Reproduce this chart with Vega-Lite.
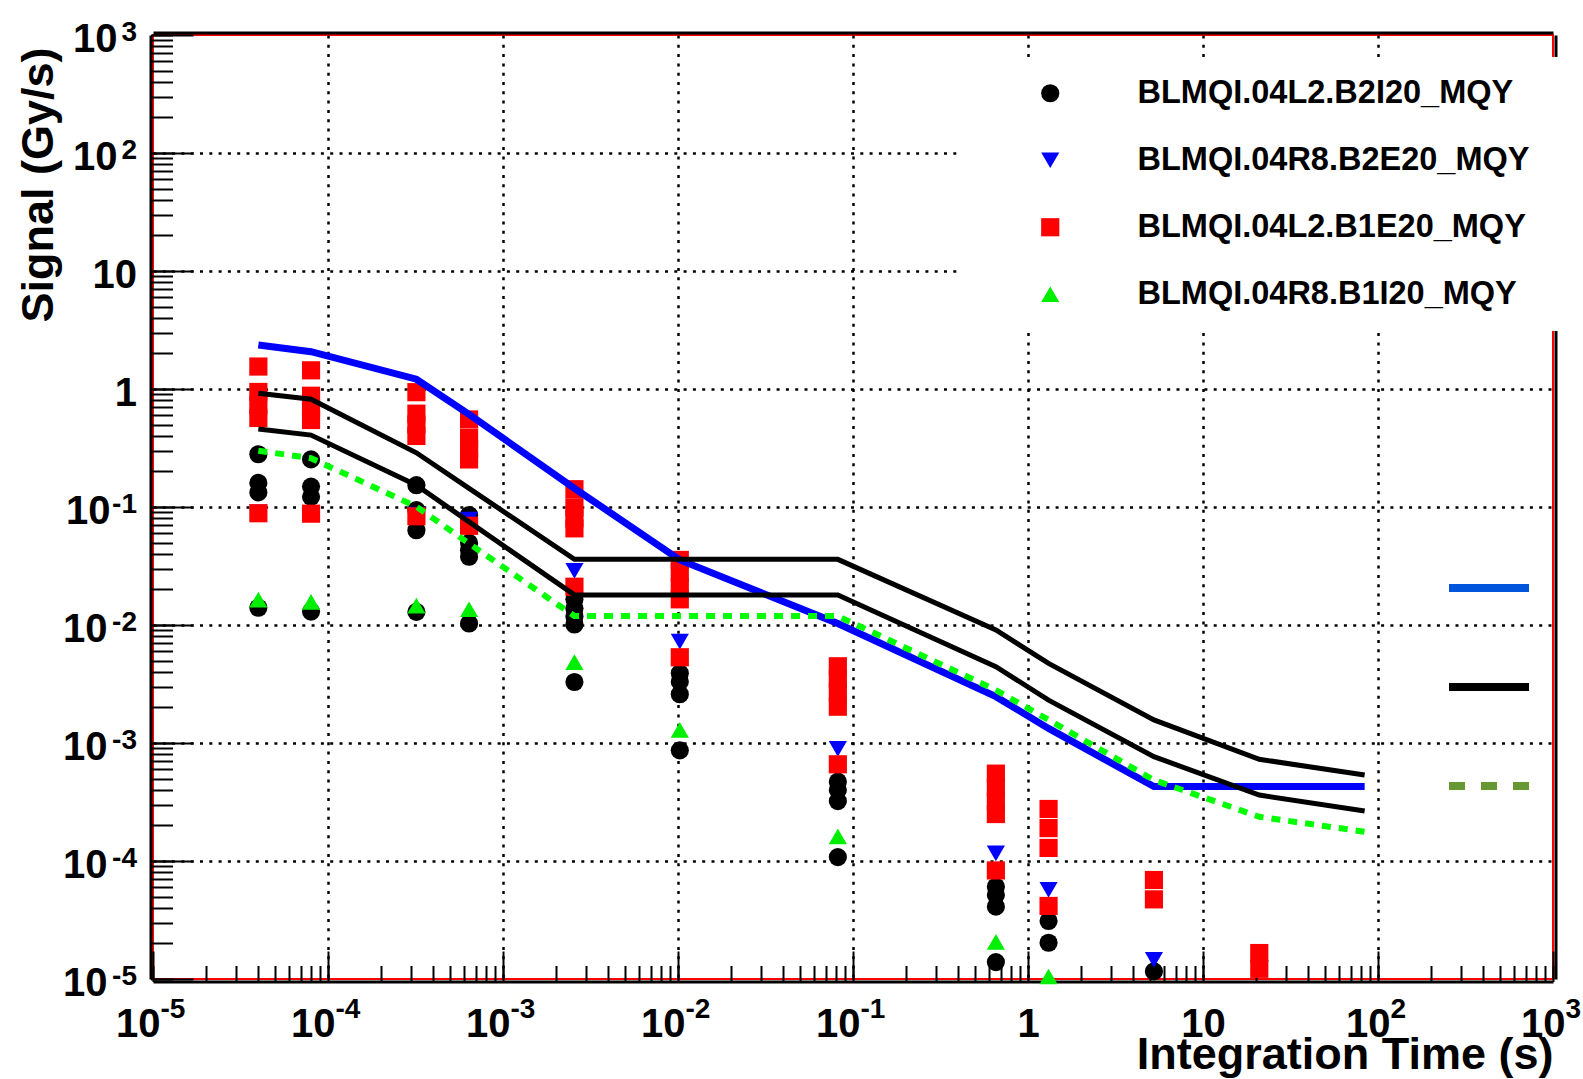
{
  "$schema": "https://vega.github.io/schema/vega-lite/v6.json",
  "width": 1400,
  "height": 944,
  "autosize": {"type": "none"},
  "padding": {"left": 153, "top": 35, "right": 30, "bottom": 100},
  "background": "#ffffff",
  "config": {
    "view": {"stroke": "#ff0000", "strokeWidth": 2},
    "font": "Liberation Sans"
  },
  "datasets": {
    "points": [
      {"t": 4e-5, "v": 0.28, "det": "BLMQI.04L2.B2I20_MQY"},
      {"t": 4e-5, "v": 0.16, "det": "BLMQI.04L2.B2I20_MQY"},
      {"t": 4e-5, "v": 0.133, "det": "BLMQI.04L2.B2I20_MQY"},
      {"t": 4e-5, "v": 0.014, "det": "BLMQI.04L2.B2I20_MQY"},
      {"t": 8e-5, "v": 0.253, "det": "BLMQI.04L2.B2I20_MQY"},
      {"t": 8e-5, "v": 0.149, "det": "BLMQI.04L2.B2I20_MQY"},
      {"t": 8e-5, "v": 0.122, "det": "BLMQI.04L2.B2I20_MQY"},
      {"t": 8e-5, "v": 0.013, "det": "BLMQI.04L2.B2I20_MQY"},
      {"t": 3.2e-4, "v": 0.153, "det": "BLMQI.04L2.B2I20_MQY"},
      {"t": 3.2e-4, "v": 0.094, "det": "BLMQI.04L2.B2I20_MQY"},
      {"t": 3.2e-4, "v": 0.0635, "det": "BLMQI.04L2.B2I20_MQY"},
      {"t": 3.2e-4, "v": 0.0129, "det": "BLMQI.04L2.B2I20_MQY"},
      {"t": 6.4e-4, "v": 0.0855, "det": "BLMQI.04L2.B2I20_MQY"},
      {"t": 6.4e-4, "v": 0.0496, "det": "BLMQI.04L2.B2I20_MQY"},
      {"t": 6.4e-4, "v": 0.043, "det": "BLMQI.04L2.B2I20_MQY"},
      {"t": 6.4e-4, "v": 0.0379, "det": "BLMQI.04L2.B2I20_MQY"},
      {"t": 6.4e-4, "v": 0.0103, "det": "BLMQI.04L2.B2I20_MQY"},
      {"t": 2.56e-3, "v": 0.0165, "det": "BLMQI.04L2.B2I20_MQY"},
      {"t": 2.56e-3, "v": 0.0138, "det": "BLMQI.04L2.B2I20_MQY"},
      {"t": 2.56e-3, "v": 0.0118, "det": "BLMQI.04L2.B2I20_MQY"},
      {"t": 2.56e-3, "v": 0.0101, "det": "BLMQI.04L2.B2I20_MQY"},
      {"t": 2.56e-3, "v": 0.00329, "det": "BLMQI.04L2.B2I20_MQY"},
      {"t": 0.01024, "v": 0.0039, "det": "BLMQI.04L2.B2I20_MQY"},
      {"t": 0.01024, "v": 0.00331, "det": "BLMQI.04L2.B2I20_MQY"},
      {"t": 0.01024, "v": 0.00259, "det": "BLMQI.04L2.B2I20_MQY"},
      {"t": 0.01024, "v": 0.000867, "det": "BLMQI.04L2.B2I20_MQY"},
      {"t": 0.08192, "v": 0.00047, "det": "BLMQI.04L2.B2I20_MQY"},
      {"t": 0.08192, "v": 0.0004, "det": "BLMQI.04L2.B2I20_MQY"},
      {"t": 0.08192, "v": 0.000322, "det": "BLMQI.04L2.B2I20_MQY"},
      {"t": 0.08192, "v": 0.000108, "det": "BLMQI.04L2.B2I20_MQY"},
      {"t": 0.65536, "v": 6.05e-5, "det": "BLMQI.04L2.B2I20_MQY"},
      {"t": 0.65536, "v": 5.15e-5, "det": "BLMQI.04L2.B2I20_MQY"},
      {"t": 0.65536, "v": 4.1e-5, "det": "BLMQI.04L2.B2I20_MQY"},
      {"t": 0.65536, "v": 1.39e-5, "det": "BLMQI.04L2.B2I20_MQY"},
      {"t": 1.31072, "v": 3.1e-5, "det": "BLMQI.04L2.B2I20_MQY"},
      {"t": 1.31072, "v": 2.03e-5, "det": "BLMQI.04L2.B2I20_MQY"},
      {"t": 5.24288, "v": 1.16e-5, "det": "BLMQI.04L2.B2I20_MQY"},

      {"t": 4e-5, "v": 0.09, "det": "BLMQI.04R8.B2E20_MQY"},
      {"t": 8e-5, "v": 0.089, "det": "BLMQI.04R8.B2E20_MQY"},
      {"t": 3.2e-4, "v": 0.086, "det": "BLMQI.04R8.B2E20_MQY"},
      {"t": 6.4e-4, "v": 0.078, "det": "BLMQI.04R8.B2E20_MQY"},
      {"t": 2.56e-3, "v": 0.0288, "det": "BLMQI.04R8.B2E20_MQY"},
      {"t": 0.01024, "v": 0.00723, "det": "BLMQI.04R8.B2E20_MQY"},
      {"t": 0.08192, "v": 0.00089, "det": "BLMQI.04R8.B2E20_MQY"},
      {"t": 0.65536, "v": 0.000116, "det": "BLMQI.04R8.B2E20_MQY"},
      {"t": 1.31072, "v": 5.68e-5, "det": "BLMQI.04R8.B2E20_MQY"},
      {"t": 5.24288, "v": 1.45e-5, "det": "BLMQI.04R8.B2E20_MQY"},

      {"t": 4e-5, "v": 1.55, "det": "BLMQI.04L2.B1E20_MQY"},
      {"t": 4e-5, "v": 0.944, "det": "BLMQI.04L2.B1E20_MQY"},
      {"t": 4e-5, "v": 0.73, "det": "BLMQI.04L2.B1E20_MQY"},
      {"t": 4e-5, "v": 0.568, "det": "BLMQI.04L2.B1E20_MQY"},
      {"t": 4e-5, "v": 0.0885, "det": "BLMQI.04L2.B1E20_MQY"},
      {"t": 8e-5, "v": 1.44, "det": "BLMQI.04L2.B1E20_MQY"},
      {"t": 8e-5, "v": 0.877, "det": "BLMQI.04L2.B1E20_MQY"},
      {"t": 8e-5, "v": 0.69, "det": "BLMQI.04L2.B1E20_MQY"},
      {"t": 8e-5, "v": 0.546, "det": "BLMQI.04L2.B1E20_MQY"},
      {"t": 8e-5, "v": 0.0878, "det": "BLMQI.04L2.B1E20_MQY"},
      {"t": 3.2e-4, "v": 0.94, "det": "BLMQI.04L2.B1E20_MQY"},
      {"t": 3.2e-4, "v": 0.618, "det": "BLMQI.04L2.B1E20_MQY"},
      {"t": 3.2e-4, "v": 0.5, "det": "BLMQI.04L2.B1E20_MQY"},
      {"t": 3.2e-4, "v": 0.4, "det": "BLMQI.04L2.B1E20_MQY"},
      {"t": 3.2e-4, "v": 0.0834, "det": "BLMQI.04L2.B1E20_MQY"},
      {"t": 6.4e-4, "v": 0.552, "det": "BLMQI.04L2.B1E20_MQY"},
      {"t": 6.4e-4, "v": 0.385, "det": "BLMQI.04L2.B1E20_MQY"},
      {"t": 6.4e-4, "v": 0.31, "det": "BLMQI.04L2.B1E20_MQY"},
      {"t": 6.4e-4, "v": 0.253, "det": "BLMQI.04L2.B1E20_MQY"},
      {"t": 6.4e-4, "v": 0.0693, "det": "BLMQI.04L2.B1E20_MQY"},
      {"t": 2.56e-3, "v": 0.1415, "det": "BLMQI.04L2.B1E20_MQY"},
      {"t": 2.56e-3, "v": 0.0993, "det": "BLMQI.04L2.B1E20_MQY"},
      {"t": 2.56e-3, "v": 0.08, "det": "BLMQI.04L2.B1E20_MQY"},
      {"t": 2.56e-3, "v": 0.0659, "det": "BLMQI.04L2.B1E20_MQY"},
      {"t": 2.56e-3, "v": 0.0211, "det": "BLMQI.04L2.B1E20_MQY"},
      {"t": 0.01024, "v": 0.0356, "det": "BLMQI.04L2.B1E20_MQY"},
      {"t": 0.01024, "v": 0.028, "det": "BLMQI.04L2.B1E20_MQY"},
      {"t": 0.01024, "v": 0.021, "det": "BLMQI.04L2.B1E20_MQY"},
      {"t": 0.01024, "v": 0.0165, "det": "BLMQI.04L2.B1E20_MQY"},
      {"t": 0.01024, "v": 0.00533, "det": "BLMQI.04L2.B1E20_MQY"},
      {"t": 0.08192, "v": 0.00447, "det": "BLMQI.04L2.B1E20_MQY"},
      {"t": 0.08192, "v": 0.0035, "det": "BLMQI.04L2.B1E20_MQY"},
      {"t": 0.08192, "v": 0.0027, "det": "BLMQI.04L2.B1E20_MQY"},
      {"t": 0.08192, "v": 0.00203, "det": "BLMQI.04L2.B1E20_MQY"},
      {"t": 0.08192, "v": 0.00066, "det": "BLMQI.04L2.B1E20_MQY"},
      {"t": 0.65536, "v": 0.00055, "det": "BLMQI.04L2.B1E20_MQY"},
      {"t": 0.65536, "v": 0.00042, "det": "BLMQI.04L2.B1E20_MQY"},
      {"t": 0.65536, "v": 0.00032, "det": "BLMQI.04L2.B1E20_MQY"},
      {"t": 0.65536, "v": 0.00025, "det": "BLMQI.04L2.B1E20_MQY"},
      {"t": 0.65536, "v": 8.32e-5, "det": "BLMQI.04L2.B1E20_MQY"},
      {"t": 1.31072, "v": 0.000276, "det": "BLMQI.04L2.B1E20_MQY"},
      {"t": 1.31072, "v": 0.00019, "det": "BLMQI.04L2.B1E20_MQY"},
      {"t": 1.31072, "v": 0.000129, "det": "BLMQI.04L2.B1E20_MQY"},
      {"t": 1.31072, "v": 4.16e-5, "det": "BLMQI.04L2.B1E20_MQY"},
      {"t": 5.24288, "v": 6.9e-5, "det": "BLMQI.04L2.B1E20_MQY"},
      {"t": 5.24288, "v": 4.73e-5, "det": "BLMQI.04L2.B1E20_MQY"},
      {"t": 20.97152, "v": 1.66e-5, "det": "BLMQI.04L2.B1E20_MQY"},
      {"t": 20.97152, "v": 1.22e-5, "det": "BLMQI.04L2.B1E20_MQY"},

      {"t": 4e-5, "v": 0.0164, "det": "BLMQI.04R8.B1I20_MQY"},
      {"t": 8e-5, "v": 0.0157, "det": "BLMQI.04R8.B1I20_MQY"},
      {"t": 3.2e-4, "v": 0.0146, "det": "BLMQI.04R8.B1I20_MQY"},
      {"t": 6.4e-4, "v": 0.0136, "det": "BLMQI.04R8.B1I20_MQY"},
      {"t": 2.56e-3, "v": 0.00485, "det": "BLMQI.04R8.B1I20_MQY"},
      {"t": 0.01024, "v": 0.00129, "det": "BLMQI.04R8.B1I20_MQY"},
      {"t": 0.08192, "v": 0.000162, "det": "BLMQI.04R8.B1I20_MQY"},
      {"t": 0.65536, "v": 2.06e-5, "det": "BLMQI.04R8.B1I20_MQY"},
      {"t": 1.31072, "v": 1.05e-5, "det": "BLMQI.04R8.B1I20_MQY"}
    ],
    "blue": [
      {"t": 4e-5, "v": 2.36}, {"t": 8e-5, "v": 2.07}, {"t": 3.2e-4, "v": 1.21}, {"t": 6.4e-4, "v": 0.61},
      {"t": 2.56e-3, "v": 0.144}, {"t": 0.01024, "v": 0.0356}, {"t": 0.08192, "v": 0.0103}, {"t": 0.65536, "v": 0.00247},
      {"t": 1.31072, "v": 0.00133}, {"t": 5.24288, "v": 0.000427}, {"t": 20.97152, "v": 0.000427}, {"t": 83.88608, "v": 0.000427}
    ],
    "black": [
      {"t": 4e-5, "v": 0.92, "curve": "upper"}, {"t": 8e-5, "v": 0.818, "curve": "upper"}, {"t": 3.2e-4, "v": 0.288, "curve": "upper"},
      {"t": 6.4e-4, "v": 0.144, "curve": "upper"}, {"t": 2.56e-3, "v": 0.036, "curve": "upper"}, {"t": 0.01024, "v": 0.036, "curve": "upper"},
      {"t": 0.08192, "v": 0.036, "curve": "upper"}, {"t": 0.65536, "v": 0.00908, "curve": "upper"}, {"t": 1.31072, "v": 0.00473, "curve": "upper"},
      {"t": 5.24288, "v": 0.00157, "curve": "upper"}, {"t": 20.97152, "v": 0.000728, "curve": "upper"}, {"t": 83.88608, "v": 0.000536, "curve": "upper"},
      {"t": 4e-5, "v": 0.458, "curve": "lower"}, {"t": 8e-5, "v": 0.407, "curve": "lower"}, {"t": 3.2e-4, "v": 0.153, "curve": "lower"},
      {"t": 6.4e-4, "v": 0.0748, "curve": "lower"}, {"t": 2.56e-3, "v": 0.018, "curve": "lower"}, {"t": 0.01024, "v": 0.018, "curve": "lower"},
      {"t": 0.08192, "v": 0.018, "curve": "lower"}, {"t": 0.65536, "v": 0.00444, "curve": "lower"}, {"t": 1.31072, "v": 0.00231, "curve": "lower"},
      {"t": 5.24288, "v": 0.000766, "curve": "lower"}, {"t": 20.97152, "v": 0.000362, "curve": "lower"}, {"t": 83.88608, "v": 0.000265, "curve": "lower"}
    ],
    "green": [
      {"t": 4e-5, "v": 0.3}, {"t": 8e-5, "v": 0.259}, {"t": 3.2e-4, "v": 0.1007}, {"t": 6.4e-4, "v": 0.049},
      {"t": 2.56e-3, "v": 0.0119}, {"t": 0.01024, "v": 0.0119}, {"t": 0.08192, "v": 0.0119}, {"t": 0.65536, "v": 0.00281},
      {"t": 1.31072, "v": 0.00157}, {"t": 5.24288, "v": 0.000485}, {"t": 20.97152, "v": 0.000237}, {"t": 83.88608, "v": 0.000177}
    ]
  },
  "resolve": {"axis": {"x": "independent", "y": "independent"}},
  "layer": [
    {
      "data": {"name": "points"},
      "mark": {"type": "point", "filled": true, "size": 330, "opacity": 1, "strokeWidth": 0},
      "encoding": {
        "x": {
          "field": "t", "type": "quantitative",
          "scale": {"type": "log", "domain": [1e-5, 1000], "nice": false},
          "axis": {
            "orient": "bottom",
            "title": "Integration Time (s)",
            "values": [1e-5, 1e-4, 0.001, 0.01, 0.1, 1, 10, 100, 1000],
            "labelExpr": "datum.value > 0.5 && datum.value < 5 ? '1' : '10'",
            "labelFont": "Liberation Sans", "labelFontWeight": "bold", "labelFontSize": 40, "labelColor": "#000000",
            "labelAlign": {"condition": {"test": "datum.value > 0.5 && datum.value < 20", "value": "center"}, "value": "right"},
            "labelOffset": {"condition": [{"test": "datum.value > 0.5 && datum.value < 20", "value": 0}, {"test": "datum.value > 50", "value": 12}], "value": 7},
            "labelBaseline": "top", "labelPadding": 53,
            "labelOverlap": false, "labelFlush": false, "labelBound": false,
            "domain": false,
            "ticks": true, "tickSize": -28, "tickWidth": 2, "tickColor": "#000000",
            "grid": true, "gridColor": "#000000", "gridDash": [3, 6.3], "gridWidth": 2.5,
            "gridOpacity": {"condition": {"test": "datum.value < 2e-5 || datum.value > 500", "value": 0}, "value": 1},
            "titleFont": "Liberation Sans", "titleFontWeight": "bold", "titleFontSize": 45, "titleColor": "#000000",
            "titleAlign": "right", "titleBaseline": "alphabetic", "titleX": 1400, "titleY": 89
          }
        },
        "y": {
          "field": "v", "type": "quantitative",
          "scale": {"type": "log", "domain": [1e-5, 1000], "nice": false},
          "axis": {
            "orient": "left",
            "title": "Signal (Gy/s)",
            "values": [1e-5, 1e-4, 0.001, 0.01, 0.1, 1, 10, 100, 1000],
            "labelExpr": "datum.value > 0.5 && datum.value < 5 ? '1' : '10'",
            "labelFont": "Liberation Sans", "labelFontWeight": "bold", "labelFontSize": 40, "labelColor": "#000000",
            "labelAlign": "right", "labelBaseline": "middle",
            "labelPadding": {"condition": [{"test": "datum.value > 0.5 && datum.value < 20", "value": 56.5}, {"test": "datum.value > 50", "value": 76}, {"test": "datum.value > 0.05", "value": 83}], "value": 86},
            "labelOffset": 4,
            "labelOverlap": false, "labelFlush": false, "labelBound": false,
            "domain": false,
            "ticks": true, "tickSize": -40, "tickWidth": 2, "tickColor": "#000000",
            "grid": true, "gridColor": "#000000", "gridDash": [3, 6.3], "gridWidth": 2.5,
            "gridOpacity": {"condition": {"test": "datum.value < 2e-5 || datum.value > 500", "value": 0}, "value": 1},
            "titleFont": "Liberation Sans", "titleFontWeight": "bold", "titleFontSize": 45, "titleColor": "#000000",
            "titleAngle": 270, "titleAlign": "right", "titleBaseline": "alphabetic", "titleX": -101, "titleY": 12
          }
        },
        "fill": {
          "field": "det", "type": "nominal",
          "scale": {
            "domain": ["BLMQI.04L2.B2I20_MQY", "BLMQI.04R8.B2E20_MQY", "BLMQI.04L2.B1E20_MQY", "BLMQI.04R8.B1I20_MQY"],
            "range": ["#000000", "#0000ff", "#ff0000", "#00ee00"]
          },
          "legend": {
            "orient": "none", "legendX": 807, "legendY": 22, "padding": 20,
            "title": " ", "titleOrient": "right", "titlePadding": 30, "titleFontSize": 8,
            "fillColor": "#ffffff", "strokeColor": null,
            "symbolSize": 330, "symbolOffset": 54, "symbolStrokeWidth": 0, "symbolOpacity": 1,
            "labelOffset": 71, "labelFont": "Liberation Sans", "labelFontWeight": "bold", "labelFontSize": 32.5,
            "labelColor": "#000000", "labelLimit": 1000, "rowPadding": 34, "direction": "vertical"
          }
        },
        "shape": {
          "field": "det", "type": "nominal",
          "scale": {
            "domain": ["BLMQI.04L2.B2I20_MQY", "BLMQI.04R8.B2E20_MQY", "BLMQI.04L2.B1E20_MQY", "BLMQI.04R8.B1I20_MQY"],
            "range": ["circle", "triangle-down", "square", "triangle-up"]
          },
          "legend": {
            "orient": "none", "legendX": 807, "legendY": 22, "padding": 20,
            "title": " ", "titleOrient": "right", "titlePadding": 30, "titleFontSize": 8,
            "fillColor": "#ffffff", "strokeColor": null,
            "symbolSize": 330, "symbolOffset": 54, "symbolStrokeWidth": 0, "symbolOpacity": 1,
            "labelOffset": 71, "labelFont": "Liberation Sans", "labelFontWeight": "bold", "labelFontSize": 32.5,
            "labelColor": "#000000", "labelLimit": 1000, "rowPadding": 34, "direction": "vertical"
          }
        }
      }
    },
    {
      "data": {"name": "blue"},
      "mark": {"type": "line", "color": "#0000ff", "strokeWidth": 7},
      "encoding": {
        "x": {
          "field": "t", "type": "quantitative",
          "scale": {"type": "log", "domain": [1e-5, 1000], "nice": false},
          "axis": {
            "orient": "bottom", "title": null, "offset": 2.5,
            "values": [1e-5, 2e-5, 3e-5, 4e-5, 5e-5, 6e-5, 7e-5, 8e-5, 9e-5,
                       1e-4, 2e-4, 3e-4, 4e-4, 5e-4, 6e-4, 7e-4, 8e-4, 9e-4,
                       0.001, 0.002, 0.003, 0.004, 0.005, 0.006, 0.007, 0.008, 0.009,
                       0.01, 0.02, 0.03, 0.04, 0.05, 0.06, 0.07, 0.08, 0.09,
                       0.1, 0.2, 0.3, 0.4, 0.5, 0.6, 0.7, 0.8, 0.9,
                       1, 2, 3, 4, 5, 6, 7, 8, 9,
                       10, 20, 30, 40, 50, 60, 70, 80, 90,
                       100, 200, 300, 400, 500, 600, 700, 800, 900, 1000],
            "labelExpr": "(datum.value < 0.5 || datum.value > 50) && abs(log(datum.value)/LN10 - round(log(datum.value)/LN10)) < 0.01 ? '' + round(log(datum.value)/LN10) : ''",
            "labelFont": "Liberation Sans", "labelFontWeight": "bold", "labelFontSize": 28, "labelColor": "#000000",
            "labelAlign": "left", "labelBaseline": "top", "labelPadding": 29.5,
            "labelOffset": {"condition": {"test": "datum.value > 50", "value": 12}, "value": 7},
            "labelOverlap": false, "labelFlush": false, "labelBound": false,
            "domain": true, "domainColor": "#000000", "domainWidth": 3,
            "ticks": true, "tickSize": -16, "tickWidth": 2, "tickColor": "#000000",
            "grid": false
          }
        },
        "y": {
          "field": "v", "type": "quantitative",
          "scale": {"type": "log", "domain": [1e-5, 1000], "nice": false},
          "axis": {
            "orient": "left", "title": null, "offset": 2.5,
            "values": [1e-5, 2e-5, 3e-5, 4e-5, 5e-5, 6e-5, 7e-5, 8e-5, 9e-5,
                       1e-4, 2e-4, 3e-4, 4e-4, 5e-4, 6e-4, 7e-4, 8e-4, 9e-4,
                       0.001, 0.002, 0.003, 0.004, 0.005, 0.006, 0.007, 0.008, 0.009,
                       0.01, 0.02, 0.03, 0.04, 0.05, 0.06, 0.07, 0.08, 0.09,
                       0.1, 0.2, 0.3, 0.4, 0.5, 0.6, 0.7, 0.8, 0.9,
                       1, 2, 3, 4, 5, 6, 7, 8, 9,
                       10, 20, 30, 40, 50, 60, 70, 80, 90,
                       100, 200, 300, 400, 500, 600, 700, 800, 900, 1000],
            "labelExpr": "(datum.value < 0.5 || datum.value > 50) && abs(log(datum.value)/LN10 - round(log(datum.value)/LN10)) < 0.01 ? '' + round(log(datum.value)/LN10) : ''",
            "labelFont": "Liberation Sans", "labelFontWeight": "bold", "labelFontSize": 28, "labelColor": "#000000",
            "labelAlign": "right", "labelBaseline": "middle", "labelPadding": 36, "labelOffset": -3,
            "labelOverlap": false, "labelFlush": false, "labelBound": false,
            "domain": true, "domainColor": "#000000", "domainWidth": 3,
            "ticks": true, "tickSize": -22, "tickWidth": 2, "tickColor": "#000000",
            "grid": false
          }
        }
      }
    },
    {
      "data": {"name": "black"},
      "mark": {"type": "line", "color": "#000000", "strokeWidth": 5},
      "encoding": {
        "x": {
          "field": "t", "type": "quantitative", "scale": {"type": "log", "domain": [1e-5, 1000], "nice": false},
          "axis": {"orient": "top", "title": null, "offset": 2.5, "labels": false, "ticks": false, "grid": false,
                   "domain": true, "domainColor": "#000000", "domainWidth": 3}
        },
        "y": {
          "field": "v", "type": "quantitative", "scale": {"type": "log", "domain": [1e-5, 1000], "nice": false},
          "axis": {"orient": "right", "title": null, "offset": 2.5, "labels": false, "ticks": false, "grid": false,
                   "domain": true, "domainColor": "#000000", "domainWidth": 3}
        },
        "detail": {"field": "curve", "type": "nominal"}
      }
    },
    {
      "data": {"name": "green"},
      "mark": {"type": "line", "color": "#00ff00", "strokeWidth": 6, "strokeDash": [9, 8]},
      "encoding": {
        "x": {"field": "t", "type": "quantitative", "scale": {"type": "log", "domain": [1e-5, 1000], "nice": false}, "axis": null},
        "y": {"field": "v", "type": "quantitative", "scale": {"type": "log", "domain": [1e-5, 1000], "nice": false}, "axis": null}
      }
    },
    {
      "data": {"values": []},
      "mark": {"type": "line"},
      "encoding": {
        "x": {"field": "t", "type": "quantitative", "scale": {"type": "log", "domain": [1e-5, 1000], "nice": false}, "axis": null},
        "y": {"field": "v", "type": "quantitative", "scale": {"type": "log", "domain": [1e-5, 1000], "nice": false}, "axis": null},
        "stroke": {
          "field": "k", "type": "nominal",
          "scale": {"domain": ["a", "b", "c"], "range": ["#0055dd", "#000000", "#669933"]},
          "legend": {
            "orient": "none", "legendX": 1292, "legendY": 509, "padding": 0, "title": null,
            "symbolType": "stroke", "symbolSize": 6400, "symbolStrokeWidth": 8, "symbolOpacity": 1,
            "labelExpr": "''", "labelFontSize": 1, "rowPadding": 39, "direction": "vertical"
          }
        },
        "strokeDash": {
          "field": "k", "type": "nominal",
          "scale": {"domain": ["a", "b", "c"], "range": [[1, 0], [1, 0], [16, 16]]},
          "legend": {
            "orient": "none", "legendX": 1292, "legendY": 509, "padding": 0, "title": null,
            "symbolType": "stroke", "symbolSize": 6400, "symbolStrokeWidth": 8, "symbolOpacity": 1,
            "labelExpr": "''", "labelFontSize": 1, "rowPadding": 39, "direction": "vertical"
          }
        }
      }
    }
  ]
}
